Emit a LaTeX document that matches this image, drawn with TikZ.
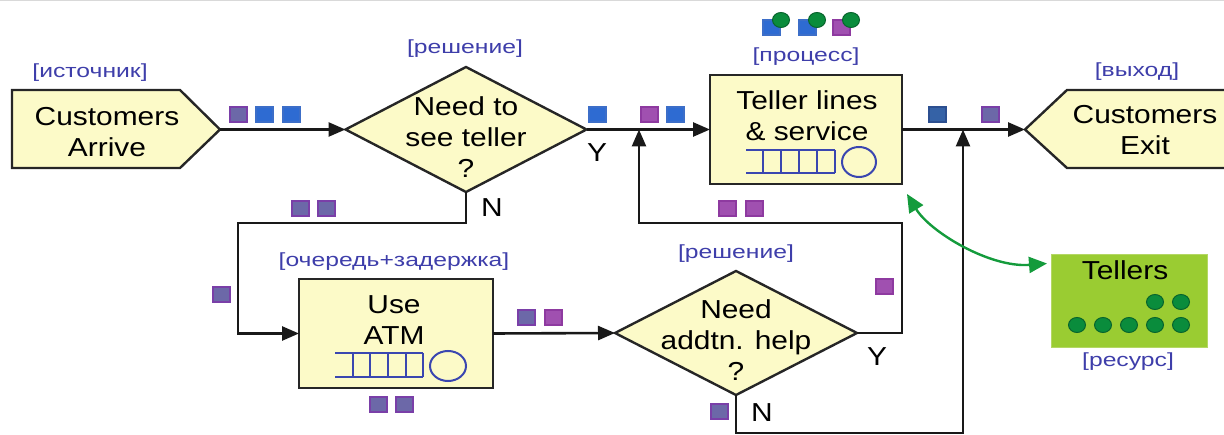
\documentclass[tikz,border=0pt]{standalone}
\usepackage{fontspec}
\setmainfont{Liberation Sans}
\newfontfamily\mainf[FakeStretch=1.15]{Liberation Sans}
\newfontfamily\labf[FakeStretch=1.3]{Liberation Sans}
\usetikzlibrary{arrows.meta,shapes.geometric}
\definecolor{boxfill}{RGB}{252,250,200}
\definecolor{labblue}{RGB}{62,62,170}
\definecolor{qblue}{RGB}{58,70,176}
\definecolor{sqPf}{RGB}{108,104,168}
\definecolor{sqPd}{RGB}{122,63,168}
\definecolor{sqBf}{RGB}{46,107,210}
\definecolor{sqBd}{RGB}{60,110,200}
\definecolor{sqMf}{RGB}{160,80,176}
\definecolor{sqMd}{RGB}{142,58,160}
\definecolor{sqDf}{RGB}{53,98,166}
\definecolor{sqDd}{RGB}{44,79,144}
\definecolor{tgreen}{RGB}{154,204,50}
\definecolor{tgreenb}{RGB}{180,215,100}
\definecolor{dotgreen}{RGB}{10,140,60}
\definecolor{dotgreenb}{RGB}{8,100,45}
\definecolor{arrgreen}{RGB}{20,155,60}
\newcommand\tokensq[3]{\filldraw[fill=#1,draw=#2,line width=1.2pt] (#3) rectangle ++(17,15);}
\begin{document}
\begin{tikzpicture}[x=1pt,y=-1pt,
  every node/.style={inner sep=0pt, outer sep=0pt},
  conn/.style={line width=2.6pt, draw=black!90},
  arrowed/.style={conn, -{Triangle[length=17pt,width=14pt]}},
  ybox/.style={draw=black!85, line width=2.4pt, fill=boxfill},
  ttext/.style={font=\mainf\fontsize{26}{31}\selectfont, align=center, text=black},
  lab/.style={font=\labf\fontsize{19}{22}\selectfont, text=labblue},
  yn/.style={font=\mainf\fontsize{26}{31}\selectfont, text=black},
  queue/.style={draw=qblue, line width=2pt},
  garrow/.style={draw=arrgreen, line width=2.4pt, {Triangle[length=18pt,width=16pt]}-{Triangle[length=18pt,width=16pt]}},
  gdot/.style={fill=dotgreen, draw=dotgreenb, line width=1pt}
]
\useasboundingbox (0,0) rectangle (1224,435);
\draw[black!15, line width=1pt] (0,0.5) -- (1224,0.5);

% source and exit pentagons
\draw[ybox] (12,90) -- (180,90) -- (220,129.5) -- (180,168) -- (12,168) -- cycle;
\coordinate (arrTip) at (220,129.5);
\node[ttext] (arrive) at (107,132) {Customers\\Arrive};
\node[lab] (labSrc) at (90,73) {[источник]};

\draw[ybox] (1240,90) -- (1067,90) -- (1025,129.5) -- (1067,168) -- (1240,168);
\coordinate (exTip) at (1025,129.5);
\node[ttext] (exit) at (1145,130) {Customers\\Exit};
\node[lab] (labExit) at (1137,72) {[выход]};

% decision 1
\node[ybox, diamond, minimum width=241pt, minimum height=125pt] (d1) at (466,129.5) {};
\node[ttext] (d1t) at (466,137) {Need to\\see teller\\?};
\node[lab] (labD1) at (465,49) {[решение]};
\node[yn] (d1y) at (597,153) {Y};
\node[yn] (d1n) at (492,208) {N};

% teller process
\node[ybox, minimum width=192pt, minimum height=109pt] (teller) at (806,129.5) {};
\node[ttext] (tellert) at (807,116) {Teller lines\\\& service};
\node[lab] (labProc) at (806,57) {[процесс]};
\draw[queue] (746,150) -- (835,150) (746,173) -- (835,173)
  (763,150) -- (763,173) (781,150) -- (781,173) (799,150) -- (799,173)
  (817,150) -- (817,173) (835,150) -- (835,173);
\draw[queue] (859,162) ellipse [x radius=17, y radius=15];

% ATM
\node[ybox, minimum width=194pt, minimum height=109pt] (atm) at (396,333.5) {};
\node[ttext] (atmt) at (394,320) {Use\\ATM};
\node[lab] (labAtm) at (394,262) {[очередь+задержка]};
\draw[queue] (335,353) -- (423,353) (335,377) -- (423,377)
  (353,353) -- (353,377) (370,353) -- (370,377) (388,353) -- (388,377)
  (406,353) -- (406,377) (423,353) -- (423,377);
\draw[queue] (448,366) ellipse [x radius=18, y radius=15];

% decision 2
\node[ybox, diamond, minimum width=242pt, minimum height=124pt] (d2) at (736,333) {};
\node[ttext] (d2t) at (736,340) {Need\\addtn. help\\?};
\node[lab] (labD2) at (736,254) {[решение]};
\node[yn] (d2y) at (877,357) {Y};
\node[yn] (d2n) at (762,413) {N};

% resource
\node[draw=tgreenb, fill=tgreen, line width=1pt, minimum width=156pt, minimum height=93pt] (tellers) at (1129,301.5) {};
\node[ttext] (tellerst) at (1125,270) {Tellers};
\node[lab] (labRes) at (1128,362) {[ресурс]};
\foreach \x in {1077,1103,1129,1155,1181} \filldraw[gdot] (\x,325) ellipse [x radius=8.5, y radius=7.5];
\foreach \x in {1155,1181} \filldraw[gdot] (\x,302) ellipse [x radius=8.5, y radius=7.5];

% connectors
\draw[arrowed] (arrTip) -- (d1.west);
\draw[arrowed] (d1.east) -- (teller.west);
\draw[arrowed] (teller.east) -- (exTip);
\coordinate (nA) at (238,223);
\draw[arrowed] (d1.south) |- (nA) |- (atm.west);
\draw[arrowed] (atm.east) -- (d2.west);
\coordinate (yA) at (902,223);
\coordinate (j1) at (639,129.5);
\draw[arrowed] (d2.east) -| (yA) -| (j1);
\coordinate (nB) at (963,433);
\coordinate (j2) at (963,129.5);
\draw[arrowed] (d2.south) |- (nB) -- (j2);
\draw[garrow] ([shift={(5,10)}]teller.south east) .. controls (930,232) and (990,268) .. ([shift={(-4,-38)}]tellers.west);

% tokens
\tokensq{sqPf}{sqPd}{230,107}
\tokensq{sqBf}{sqBd}{256,107}
\tokensq{sqBf}{sqBd}{283,107}
\tokensq{sqBf}{sqBd}{589,107}
\tokensq{sqMf}{sqMd}{641,107}
\tokensq{sqBf}{sqBd}{667,107}
\tokensq{sqDf}{sqDd}{929,107}
\tokensq{sqPf}{sqPd}{982,107}
\tokensq{sqPf}{sqPd}{292,201}
\tokensq{sqPf}{sqPd}{318,201}
\tokensq{sqPf}{sqPd}{213,287}
\tokensq{sqPf}{sqPd}{370,397}
\tokensq{sqPf}{sqPd}{396,397}
\tokensq{sqPf}{sqPd}{518,310}
\tokensq{sqMf}{sqMd}{545,310}
\tokensq{sqMf}{sqMd}{876,279}
\tokensq{sqMf}{sqMd}{719,201}
\tokensq{sqMf}{sqMd}{746,201}
\tokensq{sqPf}{sqPd}{711,404}
% teller icons
\tokensq{sqBf}{sqBd}{763,20}
\tokensq{sqBf}{sqBd}{799,20}
\tokensq{sqMf}{sqMd}{833,20}
\filldraw[gdot] (781,20) ellipse [x radius=8.5, y radius=7.5];
\filldraw[gdot] (817,20) ellipse [x radius=8.5, y radius=7.5];
\filldraw[gdot] (851,20) ellipse [x radius=8.5, y radius=7.5];
\end{tikzpicture}
\end{document}
